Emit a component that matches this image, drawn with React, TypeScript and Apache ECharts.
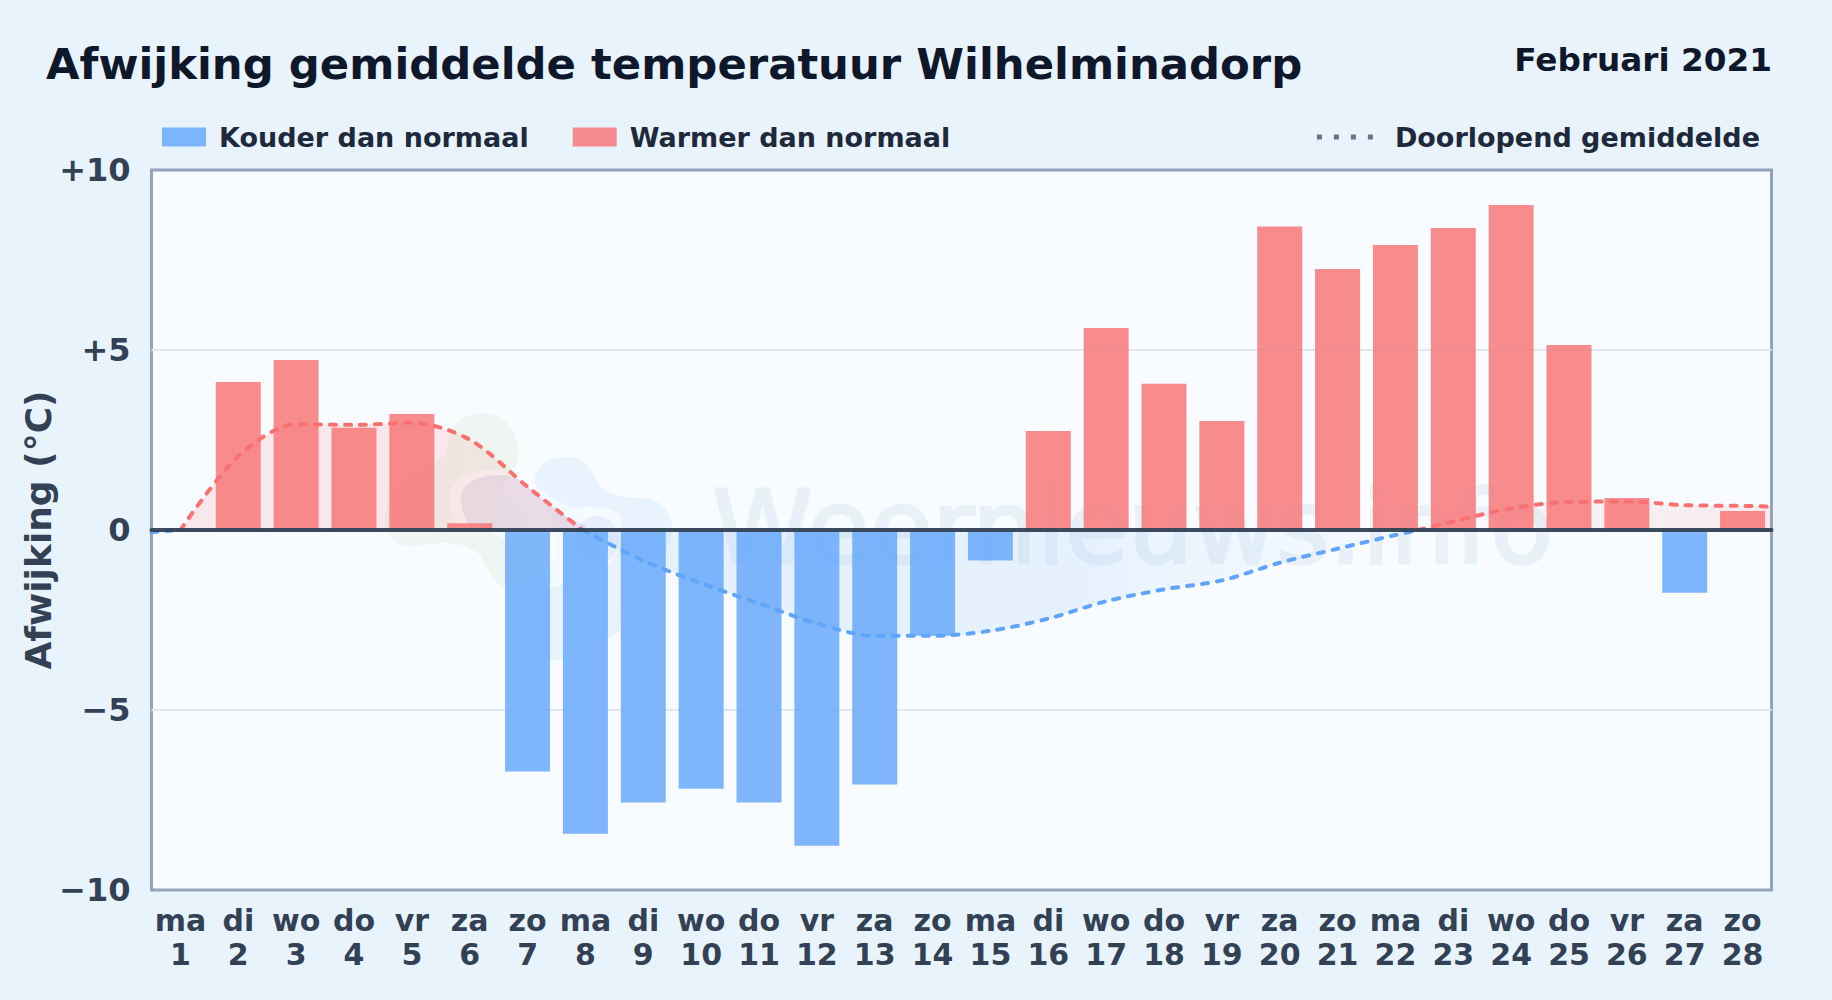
import React, { useEffect, useRef } from "react";
import * as echarts from "echarts";

const weekdays = ["ma","di","wo","do","vr","za","zo","ma","di","wo","do","vr","za","zo","ma","di","wo","do","vr","za","zo","ma","di","wo","do","vr","za","zo"];
const dayNumbers = [1,2,3,4,5,6,7,8,9,10,11,12,13,14,15,16,17,18,19,20,21,22,23,24,25,26,27,28];
const deviations = [0,4.11,4.72,2.84,3.22,0.19,-6.71,-8.44,-7.57,-7.19,-7.57,-8.77,-7.07,-2.94,-0.85,2.75,5.61,4.06,3.03,8.43,7.25,7.92,8.39,9.03,5.14,0.89,-1.74,0.53];
const yTicks: Record<string, string> = { "10": "+10", "5": "+5", "0": "0", "-5": "\u22125", "-10": "\u221210" };

// Running mean, one list per stretch of one colour: [day, value]
const meanColdStart = [[0.5,-0.06],[1,0]];
const meanWarmStart = [[1,0],[2,2.05],[3,2.94],[4,2.92],[5,2.98],[6,2.51],[7,1.2],[7.95,0]];
const meanCold = [[7.95,0],[9,-0.85],[10,-1.48],[11,-2.04],[12,-2.6],[13,-2.94],[14,-2.94],[15,-2.8],[16,-2.46],[17,-1.98],[18,-1.65],[19,-1.4],[20,-0.91],[21,-0.52],[22,-0.14],[22.4,0]];
const meanWarmEnd = [[22.4,0],[23,0.24],[24,0.6],[25,0.78],[26,0.79],[27,0.69],[28,0.67],[28.5,0.65]];

const LEGEND_COLD = "Kouder dan normaal";
const LEGEND_WARM = "Warmer dan normaal";
const LEGEND_MEAN = "Doorlopend gemiddelde";
const FONT = "'DejaVu Sans', sans-serif";
const RED = "#f87171";
const BLUE = "#60a5fa";

const grad = (r: number, g: number, b: number, stops: [number, number][]) =>
  new echarts.graphic.LinearGradient(0, 0, 1, 0, stops.map(([offset, a]) => ({ offset, color: `rgba(${r},${g},${b},${a})` })));

echarts.graphic.registerShape("wmGreen", echarts.graphic.extendPath(
  "M483 413C505 413 518 432 518 452C518 475 505 480 500 490C540 510 545 560 520 590C500 595 490 575 480 555C470 545 450 540 425 545C400 550 385 540 385 520C385 495 400 480 425 470C445 460 448 450 448 445C448 425 465 413 483 413Z", {}));
echarts.graphic.registerShape("wmBlue", echarts.graphic.extendPath(
  "M567 457C582 457 592 468 595 478C600 492 620 498 640 498C660 498 672 512 672 528C672 560 640 560 625 575C620 600 622 620 620 630C610 640 590 640 575 655C555 665 530 660 515 640C500 620 505 600 525 590C550 575 560 560 555 530C550 510 535 495 535 480C535 465 550 457 567 457Z", {}));
echarts.graphic.registerShape("wmHalo", echarts.graphic.extendPath(
  "M450 500C450 475 475 468 500 470C530 472 545 500 575 508C590 505 610 505 620 515C625 530 620 560 600 572C580 570 570 580 560 585C540 595 525 580 520 560C515 545 500 530 470 530C455 530 450 515 450 500Z", {}));
echarts.graphic.registerShape("wmCore", echarts.graphic.extendPath(
  "M461 497C461 480 490 472 510 476C530 482 545 510 585 525L585 528L475 528C465 525 461 510 461 497Z", {}));

const lineSeries = (data: number[][], color: string, area: echarts.graphic.LinearGradient) => ({
  type: "line",
  name: LEGEND_MEAN,
  xAxisIndex: 1,
  yAxisIndex: 0,
  data,
  z: 3,
  smooth: 0.3,
  showSymbol: false,
  silent: true,
  lineStyle: { color, width: 4, type: [6, 9], cap: "round" },
  areaStyle: { color: area },
});

export default function App() {
  const ref = useRef<HTMLDivElement>(null);
  useEffect(() => {
    const chart = echarts.init(ref.current!, null, { renderer: "svg" });
    const categories = weekdays.map((w, i) => `${w}\n${dayNumbers[i]}`);
    chart.setOption({
      animation: false,
      backgroundColor: "#e8f3fc",
      title: [
        { text: "Afwijking gemiddelde temperatuur Wilhelminadorp", left: 46, top: 42, padding: 0,
          textStyle: { fontFamily: FONT, fontSize: 43.35, fontWeight: "bold", color: "#0f172a" } },
        { text: "Februari 2021", right: 60, top: 43, padding: 0,
          textStyle: { fontFamily: FONT, fontSize: 32.7, fontWeight: "bold", color: "#0f172a" } },
      ],
      legend: [
        { left: 162, top: 123.5, padding: 0, itemWidth: 44, itemHeight: 19, itemGap: 44, selectedMode: false,
          textStyle: { fontFamily: FONT, fontSize: 27, fontWeight: "bold", color: "#1e293b", padding: [0, 0, 0, 8] },
          data: [
            { name: LEGEND_COLD, icon: "rect", itemStyle: { color: "rgba(96,165,250,0.8)" } },
            { name: LEGEND_WARM, icon: "rect", itemStyle: { color: "rgba(248,113,113,0.8)" } },
          ] },
        { right: 72, top: 123.5, padding: 0, itemWidth: 56, itemHeight: 19, itemGap: 0, selectedMode: false,
          textStyle: { fontFamily: FONT, fontSize: 27, fontWeight: "bold", color: "#1e293b", padding: [0, 0, 0, 17] },
          data: [
            { name: LEGEND_MEAN,
              icon: "path://M0 7h5v5h-5zM17 7h5v5h-5zM34 7h5v5h-5zM51 7h5v5h-5zM0 0h0.01v0.01h-0.01zM56 19h0.01v0.01h-0.01z",
              itemStyle: { color: "#64748b" }, lineStyle: { width: 0 } },
          ] },
      ],
      grid: { left: 151.5, right: 60.5, top: 170, bottom: 110, show: true, backgroundColor: "#f8fbff", borderColor: "#94a3b8", borderWidth: 3 },
      xAxis: [
        { type: "category", data: categories, position: "bottom", axisLine: { show: false, onZero: false }, axisTick: { show: false }, splitLine: { show: false },
          axisLabel: { interval: 0, margin: 13, fontFamily: FONT, fontSize: 30, fontWeight: "bold", lineHeight: 34, color: "#334155" } },
        { type: "value", min: 0.5, max: 28.5, position: "bottom", z: 4, axisLine: { show: true, onZero: true, lineStyle: { color: "#334155", width: 4, opacity: 0.95 } }, axisTick: { show: false }, axisLabel: { show: false }, splitLine: { show: false } },
      ],
      yAxis: {
        type: "value", min: -10, max: 10, interval: 5,
        name: "Afwijking (\u00b0C)", nameLocation: "middle", nameRotate: 90, nameGap: 95, nameMoveOverlap: false,
        nameTextStyle: { fontFamily: FONT, fontSize: 36, fontWeight: "bold", color: "#334155" },
        axisLine: { show: false }, axisTick: { show: false },
        axisLabel: { margin: 21, fontFamily: FONT, fontSize: 32, fontWeight: "bold", color: "#334155", formatter: (v: number) => yTicks[String(v)] ?? String(v) },
        splitLine: { showMinLine: false, showMaxLine: false, lineStyle: { color: "#e2e8f0", width: 2 } },
      },
      graphic: [
        { type: "group", z: 1, silent: true, children: [
          { type: "wmGreen", x: 0, y: 0, z: 1, style: { fill: "rgba(180,215,140,0.12)" } },
          { type: "wmBlue", x: 0, y: 0, z: 1, style: { fill: "rgba(96,175,250,0.1)" } },
          { type: "wmHalo", x: 0, y: 0, z: 1, style: { fill: "rgba(255,255,255,0.55)" } },
          { type: "wmCore", x: 0, y: 0, z: 1, style: { fill: "rgba(130,130,190,0.16)" } },
          { type: "ellipse", z: 1, shape: { cx: 597, cy: 540, rx: 22, ry: 24 }, style: { fill: "rgba(70,120,200,0.08)" } },
          { type: "text", x: 712, y: 527, z: 1, style: { text: "Weernieuws.info", font: `102px ${FONT}`, fill: "#e8f1f8", stroke: "#e8f1f8", lineWidth: 3, textAlign: "left", textVerticalAlign: "middle" } },
        ] },
      ],
      series: [
        { type: "bar", name: LEGEND_COLD, stack: "dev", barWidth: 45, xAxisIndex: 0, yAxisIndex: 0, z: 2,
          data: deviations.map((v) => (v < 0 ? v : null)), itemStyle: { color: "rgba(96,165,250,0.8)" } },
        { type: "bar", name: LEGEND_WARM, stack: "dev", barWidth: 45, xAxisIndex: 0, yAxisIndex: 0, z: 2,
          data: deviations.map((v) => (v >= 0 ? v : null)), itemStyle: { color: "rgba(248,113,113,0.8)" } },
        lineSeries(meanColdStart, BLUE, grad(96, 165, 250, [[0, 0.1], [1, 0.1]])),
        lineSeries(meanWarmStart, RED, grad(248, 113, 113, [[0, 0.2], [0.6, 0.2], [1, 0.14]])),
        lineSeries(meanCold, BLUE, grad(96, 165, 250, [[0, 0.16], [0.6, 0.16], [0.8, 0.07], [1, 0.03]])),
        lineSeries(meanWarmEnd, RED, grad(248, 113, 113, [[0, 0.03], [0.4, 0.08], [1, 0.18]])),
      ],
    });
    return () => chart.dispose();
  }, []);
  return <div ref={ref} style={{ position: "absolute", left: 0, top: 0, width: 1832, height: 1000 }} />;
}
